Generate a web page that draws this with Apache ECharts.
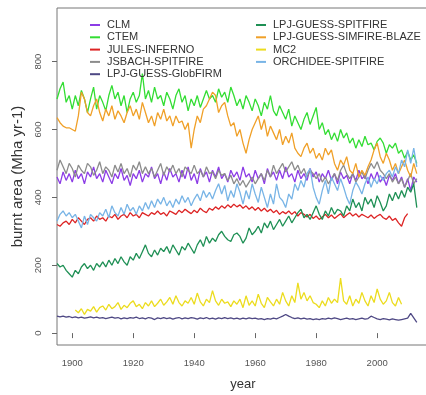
<!DOCTYPE html>
<html>
<head>
<meta charset="utf-8">
<script src="https://cdn.jsdelivr.net/npm/echarts@6/dist/echarts.min.js"></script>
<style>
  html, body { margin: 0; padding: 0; background: #fff; }
  #chart { width: 426px; height: 395px; }
</style>
</head>
<body>
<div id="chart"></div>
<script>
// 年份 1895-2013
var years = [];
for (var y = 1895; y <= 2013; y++) years.push(y);
// MC2 只有 1901-2008
var yearsMC2 = [];
for (var y2 = 1901; y2 <= 2008; y2++) yearsMC2.push(y2);

var names = ['CLM', 'CTEM', 'JULES-INFERNO', 'JSBACH-SPITFIRE', 'LPJ-GUESS-GlobFIRM',
  'LPJ-GUESS-SPITFIRE', 'LPJ-GUESS-SIMFIRE-BLAZE', 'MC2', 'ORCHIDEE-SPITFIRE'];
var colors = ['#8c3ce6', '#33dd33', '#dd2424', '#8c8c8c', '#4e4884',
  '#1f9055', '#f0a028', '#ecdc1e', '#78b4e6'];

var xTicks = [1900, 1920, 1940, 1960, 1980, 2000];
var yTicks = [0, 200, 400, 600, 800];

var clm = [460, 440, 475, 450, 470,
  445, 480, 455, 470, 440, 475, 460, 490, 455, 470,
  445, 480, 460, 440, 470, 455, 485, 450, 465, 435,
  470, 455, 480, 445, 470, 460, 490, 455, 470, 440,
  475, 450, 485, 460, 470, 445, 480, 455, 490, 450,
  470, 440, 485, 460, 475, 445, 480, 460, 490, 455,
  470, 445, 480, 460, 475, 450, 490, 460, 470, 445,
  480, 455, 470, 440, 485, 460, 475, 450, 480, 455,
  490, 460, 470, 445, 480, 455, 470, 450, 485, 460,
  475, 445, 470, 455, 480, 450, 470, 440, 475, 455,
  465, 440, 470, 450, 480, 455, 465, 440, 470, 450,
  475, 445, 460, 435, 465, 450, 470, 440, 460, 430,
  455, 420, 460, 445];

var ctem = [690, 720, 740, 680, 700,
  660, 700, 670, 715, 690, 650, 690, 725, 660, 700,
  680, 655, 700, 730, 690, 710, 670, 700, 650, 690,
  710, 680, 700, 765, 690, 715, 680, 725, 690, 700,
  670, 710, 690, 660, 700, 720, 680, 700, 655, 690,
  670, 700, 665, 690, 715, 690, 700, 680, 720, 695,
  710, 680, 725, 700, 670, 690, 660, 700, 680, 655,
  690, 670, 640, 680, 660, 700, 655, 640, 670, 650,
  630, 660, 610, 640, 620, 600, 630, 650, 615, 640,
  665, 600, 620, 585, 600, 570, 590, 565, 600, 575,
  590, 560, 575, 545, 570, 550, 580, 555, 560, 540,
  565, 575, 560, 530, 555, 545, 560, 530, 540, 515,
  535, 510, 525, 500];

var jules = [320, 315, 325, 330, 320,
  335, 325, 340, 330, 320, 335, 340, 330, 345, 335,
  340, 330, 345, 340, 350, 335, 345, 350, 340, 355,
  345, 350, 340, 355, 350, 345, 355, 350, 360, 350,
  355, 345, 360, 355, 350, 362, 355, 365, 358, 352,
  362, 355, 368, 360, 355, 368, 362, 372, 365, 375,
  368, 378, 370, 380, 372, 378, 368, 375, 365, 372,
  362, 370, 360, 368, 358, 365, 355, 362, 350, 358,
  352, 360, 350, 358, 345, 355, 350, 342, 350, 338,
  345, 335, 342, 350, 340, 348, 338, 345, 352, 340,
  348, 355, 345, 352, 342, 350, 345, 340, 348, 338,
  345, 350, 340, 335, 345, 332, 338, 325, 315, 340,
  352];

var jsbach = [480, 510, 490, 470, 500,
  485, 460, 495, 480, 470, 500, 490, 465, 480, 505,
  470, 490, 480, 460, 495, 475, 500, 470, 485, 460,
  495, 480, 505, 470, 490, 470, 485, 460, 480, 500,
  465, 490, 475, 495, 470, 485, 460, 490, 480, 470,
  495, 470, 480, 460, 490, 470, 475, 455, 480, 465,
  470, 450, 465, 440, 455, 435, 450, 430, 445, 460,
  440, 455, 470, 450, 480, 460, 495, 470, 485, 500,
  475, 490, 505, 480, 495, 470, 485, 460, 480, 470,
  455, 470, 445, 460, 440, 455, 470, 450, 480, 495,
  470, 455, 470, 445, 460, 475, 455, 480, 500, 485,
  505, 480, 470, 455, 470, 445, 460, 440, 455, 430,
  450, 470, 440, 455];

var globfirm = [50, 48, 50, 47, 49,
  46, 48, 45, 47, 44, 46, 48, 45, 47, 44,
  46, 43, 45, 47, 44, 46, 42, 45, 43, 46,
  44, 47, 43, 45, 42, 46, 44, 40, 45, 43,
  46, 43, 45, 41, 44, 46, 42, 45, 43, 46,
  44, 41, 45, 43, 46, 42, 44, 41, 45, 43,
  46, 43, 45, 42, 44, 41, 44, 42, 45, 43,
  44, 41, 43, 40, 43, 41, 44, 42, 46, 50,
  55, 50, 46, 43, 45, 42, 44, 41, 43, 40,
  42, 40, 43, 41, 44, 42, 45, 43, 40, 42,
  44, 41, 43, 40, 42, 44, 41, 43, 50, 46,
  42, 40, 43, 41, 39, 42, 40, 38, 40, 42,
  44, 58, 45, 32];

var lpjSpit = [205, 195, 200, 185, 175,
  165, 185, 175, 195, 205, 190, 200, 185, 205, 195,
  210, 195, 215, 200, 220, 205, 225, 210, 200, 225,
  215, 235, 220, 240, 260, 235, 225, 245, 230, 250,
  240, 255, 235, 260, 245, 230, 255, 245, 265, 250,
  235, 260, 275, 255, 285, 265, 280, 270, 290, 300,
  285, 275, 270, 290, 295, 285, 265, 280, 310, 290,
  300, 315, 295, 325, 310, 330, 305, 320, 335, 315,
  330, 345, 325, 340, 355, 365, 340, 350, 335, 355,
  375, 350, 335, 360, 345, 370, 350, 365, 360, 345,
  375, 360, 395, 370, 385, 360, 400, 380, 395, 370,
  405, 385, 360, 375, 410, 390, 415, 395, 420, 400,
  430, 415, 440, 370];

var simfire = [635, 620, 610, 605, 605,
  600, 595, 640, 710, 690, 650, 640, 670, 690, 650,
  625, 660, 640, 670, 630, 655, 640, 620, 650, 670,
  640, 660, 630, 680, 650, 620, 640, 610, 650, 630,
  660, 625, 640, 610, 640, 620, 625, 600, 620, 545,
  600, 640, 620, 660, 670, 690, 710, 700, 650, 670,
  680, 640, 610, 620, 580, 600, 560, 530, 570, 600,
  620, 640, 600, 630, 580, 610, 590, 570, 600, 555,
  580, 560, 590, 545, 530, 520, 545, 560, 530, 545,
  515, 530, 510, 545, 525, 540, 500, 480, 510, 495,
  520, 480, 470, 500, 460, 480, 465, 490, 510, 540,
  560, 520, 500, 530, 510, 480, 500, 470, 490, 510,
  480, 460, 500, 470];

var mc2 = [68, 60, 72, 55, 70, 65, 78, 62, 75,
  80, 68, 85, 72, 78, 90, 70, 82, 75, 88,
  95, 78, 85, 72, 90, 80, 95, 78, 88, 100,
  82, 92, 105, 85, 110, 90, 80, 95, 88, 105,
  85, 118, 92, 80, 100, 90, 125, 95, 82, 100,
  88, 92, 78, 95, 85, 100, 75, 110, 82, 95,
  80, 115, 88, 75, 105, 92, 80, 100, 85, 120,
  95, 80, 110, 90, 148, 100, 120, 95, 110, 90,
  85, 75, 95, 80, 105, 88, 100, 90, 162, 95,
  85, 110, 80, 100, 88, 120, 95, 80, 110, 90,
  130, 100, 85, 95, 120, 90, 80, 105, 85];

var orchidee = [330, 350, 360, 345, 355,
  340, 350, 330, 310, 345, 320, 350, 340, 330, 355,
  345, 365, 340, 375, 355, 345, 370, 350, 380, 360,
  370, 350, 375, 360, 385, 365, 390, 370, 395, 380,
  400, 375, 390, 370, 395, 380, 405, 385, 400, 375,
  395, 410, 390, 420, 400, 415, 395, 420, 440, 410,
  435, 390, 420, 400, 440, 415, 380, 420, 395, 440,
  410, 385, 430, 400, 370, 410, 380, 440, 400, 390,
  370, 410, 395, 440, 420, 450, 430, 470, 485, 430,
  400, 380, 420, 450, 410, 460, 440, 420, 455, 430,
  400, 380, 420, 445, 430, 410, 440, 460, 430, 455,
  440, 465, 450, 470, 480, 460, 490, 470, 510, 490,
  540, 500, 545, 490];

var seriesValues = [clm, ctem, jules, jsbach, globfirm, lpjSpit, simfire, mc2, orchidee];

function pairs(xs, vs) {
  return vs.map(function (v, i) { return [xs[i], v]; });
}

var series = names.map(function (n, i) {
  return {
    name: n,
    type: 'line',
    data: pairs(n === 'MC2' ? yearsMC2 : years, seriesValues[i]),
    showSymbol: false,
    symbol: 'none',
    color: colors[i],
    lineStyle: { width: 1.3 }
  };
});

var legendText = { fontSize: 11, lineHeight: 12, color: '#333', padding: [0, 0, 0, 2] };

var myChart = echarts.init(document.getElementById('chart'), null, { renderer: 'canvas' });
myChart.setOption({
  animation: false,
  backgroundColor: '#fff',
  textStyle: { fontFamily: 'Liberation Sans, Arial, sans-serif' },
  grid: {
    left: 57, right: -3, top: 8, bottom: 50,
    show: true, borderColor: '#777', borderWidth: 1,
    outerBoundsMode: 'none'
  },
  legend: [
    {
      data: names.slice(0, 5), orient: 'vertical', left: 85, top: 14,
      icon: 'rect', itemWidth: 10, itemHeight: 2, itemGap: 0.3,
      textStyle: legendText
    },
    {
      data: names.slice(5), orient: 'vertical', left: 251, top: 14,
      icon: 'rect', itemWidth: 10, itemHeight: 2, itemGap: 0.3,
      textStyle: legendText
    }
  ],
  xAxis: {
    type: 'value', min: 1895, max: 2017,
    name: 'year', nameLocation: 'middle', nameGap: 33,
    nameTextStyle: { fontSize: 13, color: '#333' },
    axisLine: { show: false },
    axisTick: { show: true, length: 5, lineStyle: { color: '#666' }, customValues: xTicks },
    axisLabel: {
      fontSize: 9.5, color: '#555', margin: 13, customValues: xTicks,
      formatter: function (v) { return String(v); }
    },
    splitLine: { show: false }
  },
  yAxis: {
    type: 'value', min: -35, max: 958,
    name: 'burnt area (Mha yr-1)', nameLocation: 'middle', nameGap: 27, nameRotate: 90,
    nameTextStyle: { fontSize: 15, color: '#333' },
    axisLine: { show: false },
    axisTick: { show: true, length: 5, lineStyle: { color: '#666' }, customValues: yTicks },
    axisLabel: { fontSize: 9.5, color: '#555', margin: 14, rotate: 90, customValues: yTicks },
    splitLine: { show: false }
  },
  series: series
});
</script>
</body>
</html>
